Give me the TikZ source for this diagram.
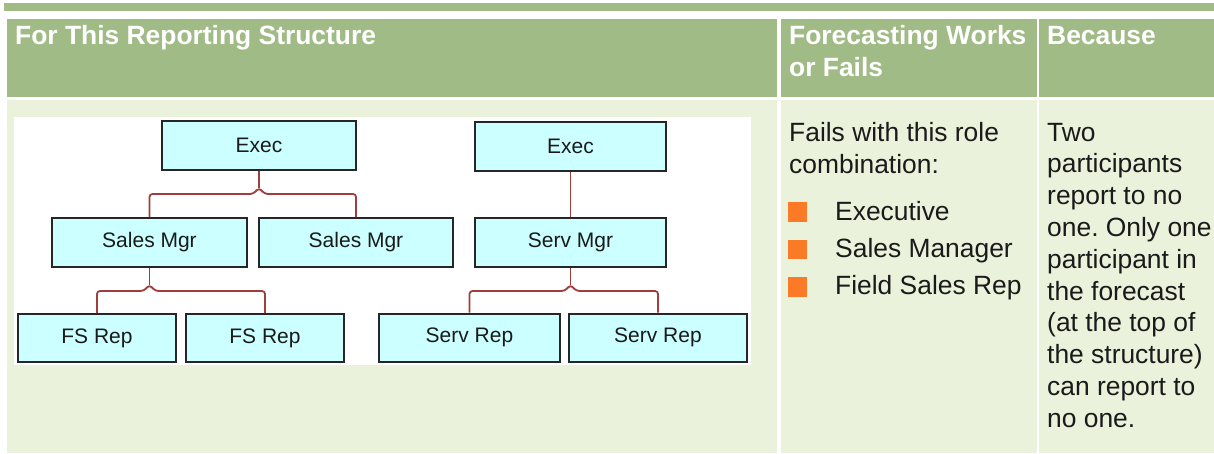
\documentclass[tikz,border=0pt]{standalone}
\usepackage{fontspec}
\setmainfont{Liberation Sans}
\usetikzlibrary{calc}
\frenchspacing

\definecolor{hdrgreen}{RGB}{161,187,134}
\definecolor{bodygreen}{RGB}{234,242,220}
\definecolor{boxcyan}{RGB}{204,255,255}
\definecolor{linkred}{RGB}{160,62,62}
\definecolor{bulletorange}{RGB}{250,122,40}
\definecolor{inktext}{RGB}{26,26,26}

\begin{document}
\begin{tikzpicture}[x=1pt, y=-1pt,
	headtext/.style={anchor=base west, inner sep=0pt, text=white, font=\fontsize{26.4}{31.8}\selectfont\bfseries},
	bodytext/.style={anchor=base west, inner sep=0pt, text=inktext, font=\fontsize{26.4}{31.8}\selectfont},
	orgbox/.style={draw=black!85, line width=2pt, fill=boxcyan, minimum height=49pt, inner sep=0pt, text=inktext, font=\fontsize{21}{24}\selectfont},
	link/.style={draw=linkred, line width=1.8pt, rounded corners=3pt},
	bullet/.style={fill=bulletorange, minimum size=19.5pt, inner sep=0pt}]

	\useasboundingbox (0, 0) rectangle (1214, 453);

	\fill[hdrgreen] (4, 3) rectangle (1214, 11);
	\fill[hdrgreen] (7, 19) rectangle (777, 97);
	\fill[hdrgreen] (781, 19) rectangle (1036.5, 97);
	\fill[hdrgreen] (1039, 19) rectangle (1214, 97);
	\fill[bodygreen] (7, 99.5) rectangle (777, 453);
	\fill[bodygreen] (781, 99.5) rectangle (1036.5, 453);
	\fill[bodygreen] (1039, 99.5) rectangle (1214, 453);
	\fill[white] (14, 117) rectangle (751, 365);

	\node[headtext] (head1) at (15, 44.5) {For This Reporting Structure};
	\node[headtext] (head2a) at (789, 44.5) {Forecasting Works};
	\node[headtext] (head2b) at (789, 76.5) {or Fails};
	\node[headtext] (head3) at (1047, 44.5) {Because};

	\node[orgbox, minimum width=194pt] (exec1) at (259, 145.5) {Exec};
	\node[orgbox, minimum width=195pt] (smgr1) at (149.5, 242.5) {Sales Mgr};
	\node[orgbox, minimum width=194pt] (smgr2) at (356, 242.5) {Sales Mgr};
	\node[orgbox, minimum width=158pt, minimum height=48pt] (fsrep1) at (97, 338) {FS Rep};
	\node[orgbox, minimum width=158pt, minimum height=48pt] (fsrep2) at (265, 338) {FS Rep};

	\node[orgbox, minimum width=191pt] (exec2) at (570.5, 146) {Exec};
	\node[orgbox, minimum width=191pt] (svmgr) at (570.5, 242.5) {Serv Mgr};
	\node[orgbox, minimum width=181pt, minimum height=48pt] (svrep1) at (469.5, 337.5) {Serv Rep};
	\node[orgbox, minimum width=178pt, minimum height=48pt] (svrep2) at (658, 337.5) {Serv Rep};

	\draw[link] (exec1.south) -- ($(exec1.south)+(0, 17)$);
	\draw[link] (smgr1.north) |- ($(exec1.south)+(-6, 23)$) -- ($(exec1.south)+(0, 17)$) -- ($(exec1.south)+(6, 23)$) -| (smgr2.north);
	\draw[link] (smgr1.south) -- ($(smgr1.south)+(0, 17)$);
	\draw[link] (fsrep1.north) |- ($(smgr1.south)+(-6, 23)$) -- ($(smgr1.south)+(0, 17)$) -- ($(smgr1.south)+(6, 23)$) -| (fsrep2.north);
	\draw[link] (exec2.south) -- (svmgr.north);
	\draw[link] (svmgr.south) -- ($(svmgr.south)+(0, 17)$);
	\draw[link] (svrep1.north) |- ($(svmgr.south)+(-6, 23)$) -- ($(svmgr.south)+(0, 17)$) -- ($(svmgr.south)+(6, 23)$) -| (svrep2.north);

	\node[bodytext] (fails1) at (789, 141.5) {Fails with this role};
	\node[bodytext] (fails2) at (789, 173) {combination:};
	\node[bullet] (bul1) at (797.5, 212) {};
	\node[bullet] (bul2) at (797.5, 249.5) {};
	\node[bullet] (bul3) at (797.5, 287) {};
	\node[bodytext] (role1) at (835, 220.5) {Executive};
	\node[bodytext] (role2) at (835, 257.5) {Sales Manager};
	\node[bodytext] (role3) at (835, 294.5) {Field Sales Rep};

	\node[bodytext] (why1) at (1047, 141) {Two};
	\node[bodytext] (why2) at (1047, 172.8) {participants};
	\node[bodytext] (why3) at (1047, 204.6) {report to no};
	\node[bodytext] (why4) at (1047, 236.4) {one. Only one};
	\node[bodytext] (why5) at (1047, 268.2) {participant in};
	\node[bodytext] (why6) at (1047, 300) {the forecast};
	\node[bodytext] (why7) at (1047, 331.8) {(at the top of};
	\node[bodytext] (why8) at (1047, 363.6) {the structure)};
	\node[bodytext] (why9) at (1047, 395.4) {can report to};
	\node[bodytext] (why10) at (1047, 427.2) {no one.};

\end{tikzpicture}
\end{document}
